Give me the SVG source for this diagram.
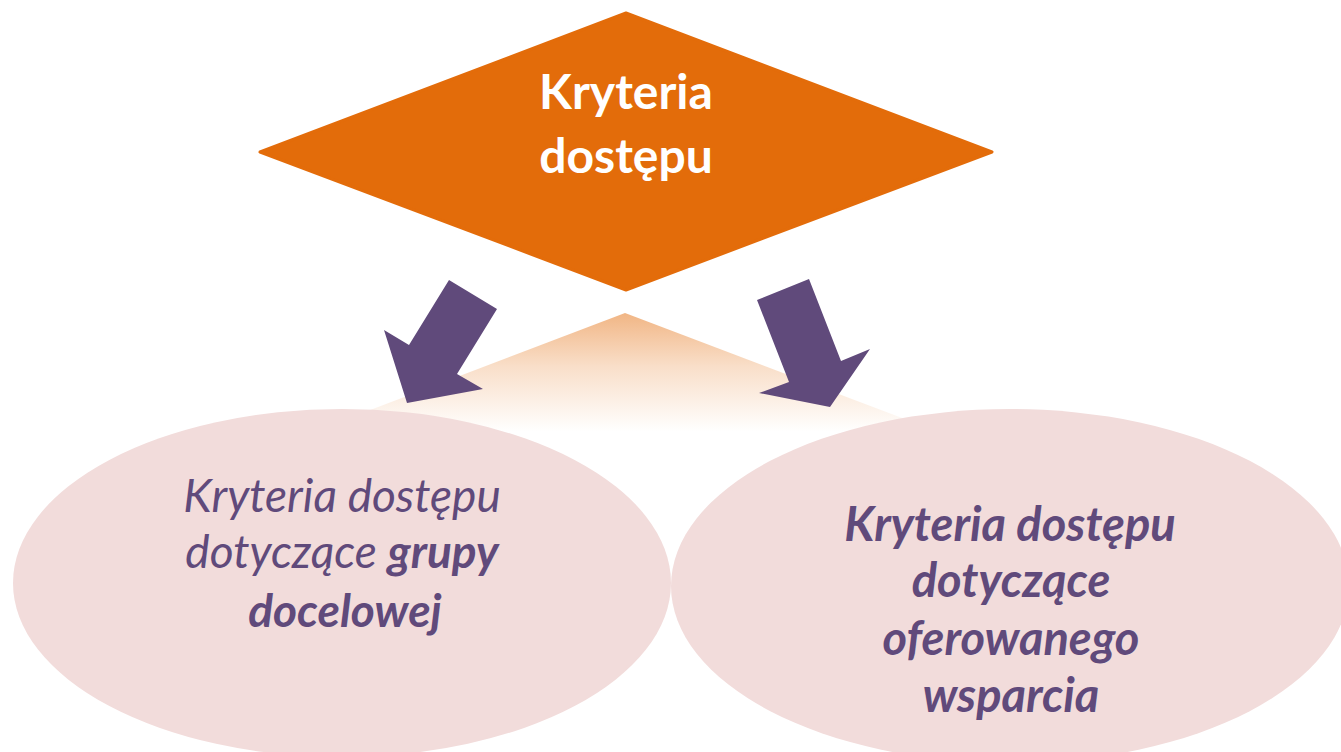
<svg xmlns="http://www.w3.org/2000/svg" width="1341" height="752" viewBox="0 0 1341 752">
<defs>
<linearGradient id="refl" gradientUnits="userSpaceOnUse" x1="0" y1="313" x2="0" y2="432">
<stop offset="0" stop-color="#E36C0A" stop-opacity="0.5"/>
<stop offset="0.45" stop-color="#E36C0A" stop-opacity="0.22"/>
<stop offset="1" stop-color="#E36C0A" stop-opacity="0"/>
</linearGradient>
<style>
.oval{fill:#F2DCDB}
.arrow{fill:#604A7B}
.t{font-family:Lato,"Open Sans","Liberation Sans",sans-serif;text-anchor:middle}
.head{fill:#FFFFFF;font-weight:bold;font-size:48px}
.lbl{fill:#604A7B;font-style:italic;font-size:46px}
.lblb{fill:#604A7B;font-style:italic;font-weight:bold;font-size:47px}
.b{font-weight:bold}
</style>
</defs>
<rect x="0" y="0" width="1341" height="752" fill="#FFFFFF"/>
<g id="reflection">
<polygon points="625,313 260,452 992,452" fill="url(#refl)"/>
</g>
<g id="node-left">
<ellipse class="oval" cx="342" cy="583" rx="329" ry="174"/>
<text class="t lbl" x="342" y="512">Kryteria dostępu</text>
<text class="t lbl" x="342" y="568">dotyczące <tspan class="b">grupy</tspan></text>
<text class="t lbl b" x="345" y="627">docelowej</text>
</g>
<g id="node-right">
<ellipse class="oval" cx="1010" cy="586" rx="339" ry="177"/>
<text class="t lblb" x="1010" y="541">Kryteria dostępu</text>
<text class="t lblb" x="1011" y="597">dotyczące</text>
<text class="t lblb" x="1011" y="655">oferowanego</text>
<text class="t lblb" x="1011" y="712">wsparcia</text>
</g>
<g id="node-top">
<polygon points="626,13 992,152 626,290 260,152" fill="#E36C0A" stroke="#E36C0A" stroke-width="3" stroke-linejoin="round"/>
<text class="t head" x="626" y="109">Kryteria</text>
<text class="t head" x="626" y="173">dostępu</text>
</g>
<g id="connectors">
<polygon class="arrow" points="449,280 497,309 457,374 483,389 407,403 384,330 409,345"/>
<polygon class="arrow" points="757,300 809,279 841,361 870,349 830,407 759,393 789,382"/>
</g>
</svg>
